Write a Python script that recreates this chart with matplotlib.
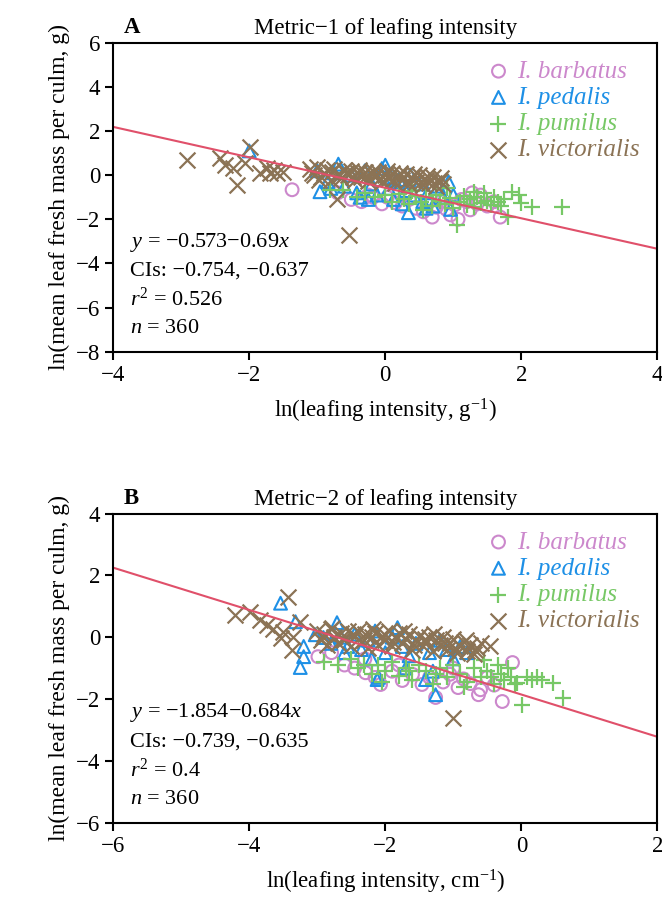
import matplotlib
matplotlib.use('Agg')
import matplotlib.pyplot as plt

plt.rcParams['font.family'] = ['Liberation Serif', 'DejaVu Serif']
plt.rcParams['mathtext.fontset'] = 'custom'
plt.rcParams['mathtext.rm'] = 'Liberation Serif'
plt.rcParams['mathtext.it'] = 'Liberation Serif:italic'
plt.rcParams['font.size'] = 16

species = ['I. barbatus', 'I. pedalis', 'I. pumilus', 'I. victorialis']
colors = ['#cc88cc', '#1e90e6', '#77c866', '#8b7355']
markers = ['o', '^', '+', 'x']

# ---- panel A (metric 1) ----
barbatus_a_x = [-1.37, -0.25, -0.7, -0.5, -0.35, -0.18, -0.05, 0.03, 0.15, 0.25,
                0.35, 0.45, 0.56, 0.62, 0.69, 0.75, 0.82, 0.9, 0.96, 1.02,
                1.07, 1.12, 1.2, 1.25, 1.28, 1.35, 1.4, 1.5, 1.6, 1.69]
barbatus_a_y = [-0.66, -0.9, -0.8, -1.1, -1.2, -1.0, -1.3, -1.0, -1.25, -1.4,
                -1.1, -1.5, -1.66, -1.3, -1.9, -1.45, -1.2, -1.55, -1.8, -1.35,
                -2.0, -1.1, -1.2, -1.57, -0.8, -1.3, -0.9, -1.4, -1.2, -1.9]
pedalis_a_x = [-2.0, -1.0, -0.96, -0.85, -0.75, -0.69, -0.6, -0.5, -0.42, -0.37,
               -0.3, -0.2, -0.12, -0.05, 0.0, 0.05, 0.12, 0.2, 0.25, 0.3,
               0.34, 0.37, 0.42, 0.5, 0.55, 0.62, 0.7, 0.78, 0.85, 0.93,
               0.96, 1.0, -0.8, -0.25, 0.15, 0.6]
pedalis_a_y = [1.1, 0.2, -0.75, -0.3, 0.1, 0.5, -0.5, 0.0, -0.8, -1.0,
               0.2, -0.4, -0.9, 0.3, 0.45, -0.6, -1.1, -0.2, -1.3, -0.7,
               -1.7, 0.0, -0.9, -0.4, -1.2, -0.8, -1.4, -0.5, -1.0, -0.3,
               -1.55, -0.9, -0.6, -1.1, -0.3, -1.5]
pumilus_a_x = [-0.81, -0.62, -0.41, -0.3, -0.15, 0.0, 0.1, 0.2, 0.28, 0.35,
               0.45, 0.52, 0.6, 0.68, 0.75, 0.8, 0.88, 0.95, 1.0, 1.06,
               1.1, 1.15, 1.2, 1.25, 1.3, 1.35, 1.4, 1.45, 1.5, 1.55,
               1.6, 1.65, 1.7, 1.75, 1.81, 1.86, 1.96, 1.99, 2.16, 2.6,
               0.4, 0.9, 1.3, 0.55]
pumilus_a_y = [-0.66, -0.66, -0.97, -0.8, -1.0, -0.9, -1.2, -0.85, -1.1, -1.3,
               -0.95, -1.2, -1.0, -1.4, -0.9, -1.15, -1.3, -1.05, -1.5, -2.25,
               -1.2, -0.95, -1.35, -1.1, -1.45, -1.0, -1.25, -0.8, -1.15, -1.35,
               -1.0, -1.2, -1.4, -1.1, -1.9, -0.75, -0.9, -1.26, -1.43, -1.43,
               -0.7, -0.6, -0.75, -1.6]
victorialis_a_x = [-2.91, -2.43, -2.35, -2.24, -2.18, -2.06, -1.99, -1.84, -1.74, -1.69,
                   -1.64, -1.59, -1.51, -0.71, -0.54,
                   -1.1, -1.05, -1.0, -0.95, -0.9, -0.85, -0.8, -0.75, -0.7, -0.65,
                   -0.6, -0.55, -0.5, -0.45, -0.4, -0.35, -0.3, -0.25, -0.2, -0.15,
                   -0.1, -0.05, 0.0, 0.05, 0.1, 0.15, 0.2, 0.25, 0.3, 0.35,
                   0.4, 0.45, 0.5, 0.55, 0.6, 0.65, 0.7, 0.75, 0.8, 0.85,
                   -1.08, -0.98, -0.88, -0.78, -0.68, -0.58, -0.48, -0.38, -0.28, -0.18,
                   -0.08, 0.02, 0.12, 0.22, 0.32, 0.42, 0.52, 0.62, 0.72, 0.82]
victorialis_a_y = [0.70, 0.79, 0.47, 0.34, -0.43, 0.56, 1.29, 0.11, 0.34, 0.11,
                   0.25, 0.11, 0.16, -1.1, -2.7,
                   0.3, 0.0, 0.35, -0.1, 0.1, 0.25, -0.2, 0.3, 0.05, -0.15,
                   0.25, 0.0, 0.2, -0.2, 0.1, -0.1, 0.15, -0.25, 0.05, -0.1,
                   0.15, -0.3, 0.0, -0.15, 0.1, -0.35, -0.05, -0.2, 0.05, -0.4,
                   -0.15, -0.3, 0.0, -0.45, -0.2, -0.35, -0.1, -0.5, -0.25, -0.4,
                   0.1, -0.2, 0.05, 0.15, -0.05, 0.1, -0.1, 0.25, -0.05, 0.2,
                   -0.15, 0.2, -0.2, 0.1, -0.25, 0.05, -0.3, -0.05, -0.35, -0.15]

# ---- panel B (metric 2) ----
barbatus_b_x = [-2.99, -2.79, -2.6, -2.45, -2.29, -2.15, -2.07, -1.9, -1.75, -1.6,
                -1.46, -1.35, -1.26, -1.15, -1.05, -0.93, -0.85, -0.75, -0.63, -0.6,
                -0.5, -0.4, -0.28, -0.13, -2.3, -1.8, -1.0]
barbatus_b_y = [-0.63, -0.5, -0.9, -1.0, -1.15, -1.3, -1.53, -1.1, -1.4, -1.2,
                -1.53, -1.3, -1.95, -1.45, -1.2, -1.63, -1.35, -1.5, -1.86, -1.7,
                -1.3, -1.55, -2.08, -0.82, -0.7, -0.9, -1.0]
pedalis_b_x = [-3.54, -3.32, -3.2, -3.2, -3.25, -3.03, -2.91, -2.71, -2.8, -2.65,
               -2.55, -2.45, -2.35, -2.25, -2.15, -2.12, -2.1, -2.0, -1.9, -1.82,
               -1.75, -1.65, -1.55, -1.41, -1.35, -1.26, -1.2, -1.1, -1.0, -0.9,
               -0.8, -2.6, -2.2, -1.7, -1.3]
pedalis_b_y = [1.1, 0.5, -0.3, -0.63, -0.98, 0.08, -0.01, 0.47, -0.2, 0.0,
               -0.3, 0.1, -0.4, -0.1, 0.2, -1.37, -1.3, -0.5, 0.0, 0.31,
               -0.3, -0.6, -0.2, -1.37, -0.5, -1.86, -0.1, -0.4, -0.7, -0.3,
               -0.5, -0.5, -0.7, -1.0, -1.1]
pumilus_b_x = [-2.9, -2.7, -2.51, -2.4, -2.32, -2.2, -2.1, -2.0, -1.9, -1.8,
               -1.7, -1.6, -1.5, -1.4, -1.3, -1.2, -1.1, -1.0, -0.9, -0.8,
               -0.7, -0.6, -0.5, -0.4, -0.35, -0.3, -0.25, -0.2, -0.15, -0.1,
               -0.06, 0.01, 0.08, 0.15, 0.23, 0.3, 0.46, 0.62, -1.65, -1.25,
               -0.85, -0.45, -2.05, -0.55]
pumilus_b_y = [-0.8, -0.9, -0.72, -1.0, -0.89, -1.2, -0.9, -1.1, -0.8, -1.25,
               -1.0, -1.4, -0.9, -1.1, -1.5, -1.0, -1.3, -0.9, -1.2, -1.45,
               -1.0, -1.3, -1.1, -1.5, -0.9, -1.2, -1.4, -1.0, -1.3, -1.5,
               -1.48, -2.18, -1.3, -1.4, -1.3, -1.4, -1.48, -1.96, -1.1, -1.2,
               -1.6, -1.3, -1.45, -0.75]
victorialis_b_x = [-4.21, -3.99, -3.84, -3.74, -3.65, -3.51, -3.43, -3.35, -3.37, -3.54,
                   -3.25, -1.0, -0.46,
                   -3.0, -2.95, -2.9, -2.85, -2.8, -2.75, -2.7, -2.65, -2.6, -2.55,
                   -2.5, -2.45, -2.4, -2.35, -2.3, -2.25, -2.2, -2.15, -2.1, -2.05,
                   -2.0, -1.95, -1.9, -1.85, -1.8, -1.75, -1.7, -1.65, -1.6, -1.55,
                   -1.5, -1.45, -1.4, -1.35, -1.3, -1.25, -1.2, -1.15, -1.1, -1.05,
                   -1.0, -0.95, -0.9, -0.85, -0.8, -0.75, -0.7, -0.65, -0.6,
                   -2.92, -2.78, -2.62, -2.48, -2.32, -2.18, -2.02, -1.88, -1.72, -1.58,
                   -1.42, -1.28, -1.12, -0.98, -0.82, -0.68]
victorialis_b_y = [0.73, 0.80, 0.57, 0.41, 0.25, 0.18, 1.31, 0.02, -0.4, -0.01,
                   0.5, -2.6, -0.3,
                   0.2, -0.1, 0.1, -0.25, 0.25, 0.0, -0.2, 0.15, -0.1, 0.2,
                   -0.3, 0.05, 0.2, -0.15, 0.1, -0.35, 0.0, 0.15, -0.25, 0.05,
                   -0.1, 0.2, -0.3, 0.0, 0.15, -0.2, -0.05, 0.1, -0.4, -0.1,
                   0.05, -0.3, -0.15, 0.0, -0.45, -0.1, -0.25, 0.0, -0.4, -0.2,
                   -0.05, -0.5, -0.3, -0.15, -0.45, -0.25, -0.55, -0.35, -0.2,
                   0.0, 0.3, -0.05, 0.1, -0.1, 0.25, 0.1, -0.15, 0.2, -0.25,
                   -0.05, 0.1, -0.2, -0.35, -0.1, -0.4]

panels = [
    dict(letter='A', title='Metric\u22121 of leafing intensity',
         xlabel='ln(leafing intensity, g$^{-1}$)', xlim=(-4, 4), ylim=(-8, 6),
         xticks=[-4, -2, 0, 2, 4], yticks=[-8, -6, -4, -2, 0, 2, 4, 6],
         a=-0.573, b=-0.69,
         stats=['$y$ = \u22120.573\u22120.69$x$', 'CIs: \u22120.754, \u22120.637',
                '$r^2$ = 0.526', '$n$ = 360'],
         data=[(barbatus_a_x, barbatus_a_y), (pedalis_a_x, pedalis_a_y),
               (pumilus_a_x, pumilus_a_y), (victorialis_a_x, victorialis_a_y)]),
    dict(letter='B', title='Metric\u22122 of leafing intensity',
         xlabel='ln(leafing intensity, cm$^{-1}$)', xlim=(-6, 2), ylim=(-6, 4),
         xticks=[-6, -4, -2, 0, 2], yticks=[-6, -4, -2, 0, 2, 4],
         a=-1.854, b=-0.684,
         stats=['$y$ = \u22121.854\u22120.684$x$', 'CIs: \u22120.739, \u22120.635',
                '$r^2$ = 0.4', '$n$ = 360'],
         data=[(barbatus_b_x, barbatus_b_y), (pedalis_b_x, pedalis_b_y),
               (pumilus_b_x, pumilus_b_y), (victorialis_b_x, victorialis_b_y)]),
]

fig = plt.figure(figsize=(6.62, 9.09), dpi=100)
rects = [[0.171, 0.613, 0.822, 0.340], [0.171, 0.095, 0.822, 0.340]]

for p, rect in zip(panels, rects):
    ax = fig.add_axes(rect)
    for (xs, ys), name, c, m in zip(p['data'], species, colors, markers):
        if m in ('o', '^'):
            ax.scatter(xs, ys, s=85, marker=m, facecolors='none', edgecolors=c,
                       linewidths=1.5, label=name)
        else:
            ax.scatter(xs, ys, s=130, marker=m, color=c, linewidths=1.6, label=name)
    x0, x1 = p['xlim']
    ax.plot([x0, x1], [p['a'] + p['b'] * x0, p['a'] + p['b'] * x1],
            color='#e0506a', lw=1.5)
    ax.set_xlim(x0, x1)
    ax.set_ylim(*p['ylim'])
    ax.set_xticks(p['xticks'])
    ax.set_yticks(p['yticks'])
    ax.tick_params(direction='out', length=6, width=1.5, labelsize=16.5)
    for s in ax.spines.values():
        s.set_linewidth(1.5)
    ax.set_xlabel(p['xlabel'], fontsize=16.5, labelpad=8)
    ax.set_ylabel('ln(mean leaf fresh mass per culm, g)', fontsize=17, labelpad=4)
    ax.set_title(p['title'], fontsize=16.5, pad=6)
    ax.text(0.02, 1.015, p['letter'], transform=ax.transAxes, fontsize=16.5,
            fontweight='bold', va='bottom')
    for i, line in enumerate(p['stats']):
        ax.text(0.03, 0.355 - i * 0.093, line, transform=ax.transAxes,
                fontsize=16, va='center')
    leg = ax.legend(loc='upper right', frameon=False, handletextpad=0.25,
                    labelspacing=0.15, borderaxespad=0.3, handlelength=1.0,
                    prop={'style': 'italic', 'size': 18})
    for t, c in zip(leg.get_texts(), colors):
        t.set_color(c)

fig.savefig('out.png', dpi=100)
